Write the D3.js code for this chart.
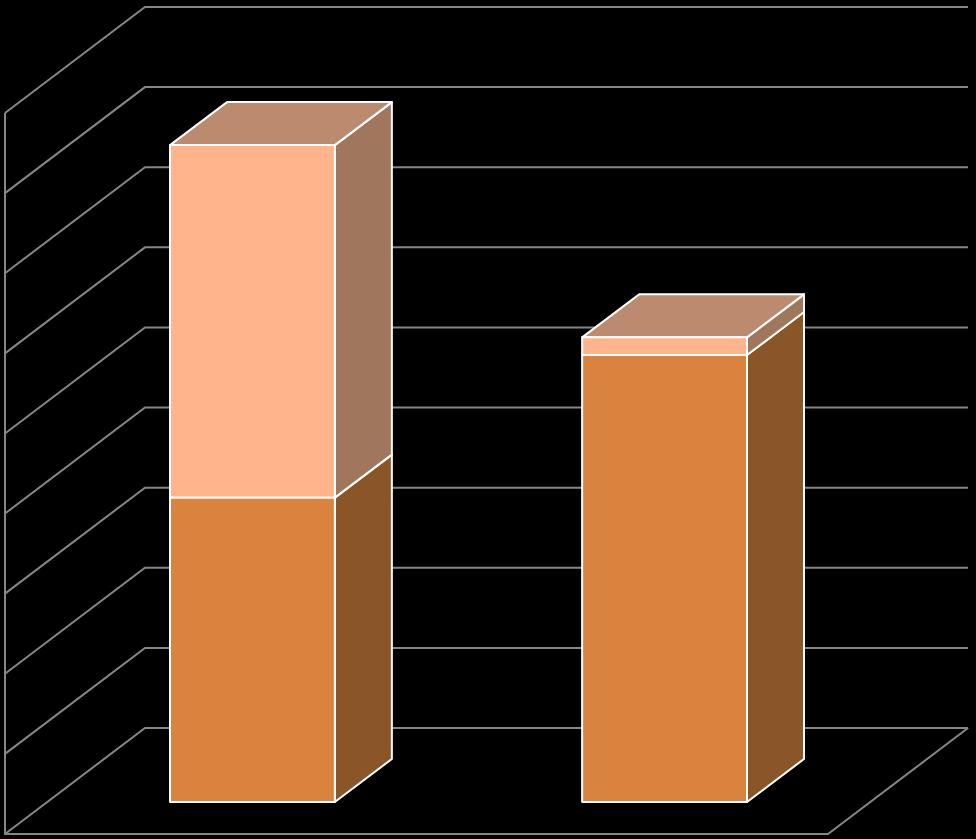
<!DOCTYPE html>
<html><head><meta charset="utf-8">
<style>html,body{margin:0;padding:0;background:#000}svg{display:block}</style>
<script src="https://cdn.jsdelivr.net/npm/d3@7/dist/d3.min.js"></script>
</head><body><svg id="c" width="976" height="839"></svg>
<script>
const categories = ["Category 1", "Category 2"];
const lowerValues = [3.8, 5.58];
const upperValues = [4.4, 0.22];
const tickValues = [0,1,2,3,4,5,6,7,8,9];
const lowerColors = {front:"#D9833E", side:"#8B5627"};
const upperColors = {front:"#FFB48C", side:"#A0775D", top:"#BC8A6E"};

const W=976,H=839;
const svg=d3.select("#c");
svg.append("rect").attr("width",W).attr("height",H).attr("fill","#000");

// wall scale (back plane) and bar scale (front plane of bars)
const wallY=d3.scaleLinear().domain([0,9]).range([728,7]);
const barY=d3.scaleLinear().domain([0,9]).range([802,81]);
const x=d3.scaleBand().domain(categories).range([170,747]).paddingInner(0.6).paddingOuter(0);
const wall={left:145,right:968,dx:140,dy:106};
const depth={dx:57,dy:43};

const grid="#868686";
const g=svg.append("g").attr("fill","none").attr("stroke",grid).attr("stroke-width",2);
const line=d3.line();
tickValues.forEach(t=>{
  const y=wallY(t);
  g.append("path").attr("d",line([[wall.left-wall.dx,y+wall.dy],[wall.left,y],[wall.right,y]]));
});
// left wall edge, floor front edge and floor right edge
g.append("path").attr("d",line([[wall.left-wall.dx,wallY(9)+wall.dy],[wall.left-wall.dx,wallY(0)+wall.dy],[wall.right-wall.dx,wallY(0)+wall.dy],[wall.right,wallY(0)]]));

const bars=svg.append("g").attr("stroke","#FFFFFF").attr("stroke-width",2).attr("stroke-linejoin","round");
function box(cat,v0,v1,col,hasTop){
  const xl=x(cat),xr=xl+x.bandwidth(),y0=barY(v0),y1=barY(v1);
  const b=bars.append("g");
  b.append("path").attr("fill",col.side).attr("d",line([[xr,y1],[xr+depth.dx,y1-depth.dy],[xr+depth.dx,y0-depth.dy],[xr,y0]])+"Z");
  if(hasTop) b.append("path").attr("fill",col.top).attr("d",line([[xl,y1],[xl+depth.dx,y1-depth.dy],[xr+depth.dx,y1-depth.dy],[xr,y1]])+"Z");
  b.append("rect").attr("x",xl).attr("y",y1).attr("width",xr-xl).attr("height",y0-y1).attr("fill",col.front);
}
categories.forEach((c,i)=>{
  box(c,0,lowerValues[i],lowerColors,false);
  box(c,lowerValues[i],lowerValues[i]+upperValues[i],upperColors,true);
});
</script></body></html>
